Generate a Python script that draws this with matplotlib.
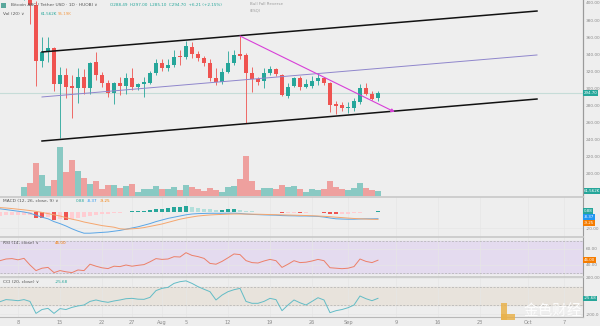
import numpy as np
import matplotlib
matplotlib.use('Agg')
import matplotlib.pyplot as plt
import matplotlib.transforms as mtransforms
from matplotlib.patches import Rectangle

# ---- data (day 0 = 2019-07-08) ----
days = np.arange(1, 61)
opens = [408, 415, 398, 332, 343, 347, 305, 316, 303, 300,
         314, 300, 331, 316, 307, 295, 306, 303, 312, 302,
         305, 306, 318, 330, 324, 327, 338, 337, 348, 340,
         336, 330, 312, 308, 319, 330, 340, 339, 318, 311,
         309, 318, 323, 316, 291, 303, 312, 302, 303, 309,
         312, 306, 282, 281, 277, 277, 284, 301, 293, 288.49]
highs = [425, 420, 402, 360, 360, 348, 325, 324, 316, 324,
         323, 331, 343, 319, 310, 308, 313, 318, 324, 307,
         313, 320, 335, 334, 334, 345, 345, 356, 354, 344,
         338, 335, 324, 324, 344, 345, 361, 341, 325, 314,
         324, 326, 324, 317, 306, 314, 315, 311, 315, 318,
         313, 308, 285, 284, 284, 289, 305, 306, 297, 297.0]
lows = [404, 375, 303, 325, 331, 297, 242, 289, 266, 283,
        294, 294, 310, 302, 290, 282, 292, 293, 298, 298,
        290, 305, 316, 320, 321, 325, 327, 334, 336, 332,
        326, 309, 304, 305, 318, 328, 335, 260, 296, 304,
        300, 316, 315, 291, 289, 302, 298, 300, 301, 304,
        304, 272, 270, 274, 271, 274, 282, 292, 286, 285.1]
closes = [416, 398, 332, 343, 347, 305, 316, 302, 300, 314,
          301, 330, 316, 307, 295, 306, 303, 312, 302, 305,
          308, 318, 330, 324, 328, 337, 337, 350, 340, 336,
          330, 312, 308, 319, 330, 339, 338, 318, 311, 308,
          318, 323, 317, 292, 302, 312, 302, 305, 309, 312,
          306, 281, 280, 277, 278, 285, 301, 293, 288, 294.7]
volume_k = [114, 164, 402, 258, 123, 197, 599, 299, 443, 311,
            218, 148, 188, 90, 132, 139, 102, 127, 148, 53,
            90, 90, 123, 86, 86, 107, 77, 135, 111, 86,
            62, 95, 74, 49, 107, 123, 205, 492, 188, 74,
            95, 95, 82, 132, 107, 123, 90, 49, 90, 74,
            82, 188, 114, 82, 74, 98, 164, 102, 74, 61.562]

ind_days = np.arange(-3, 61)
macd = [4, 3, 2, 1,
        0, -1.5, -4, -6.5, -8.5, -12, -14.5, -17.5, -21, -24,
        -26.5, -26.5, -26, -25.5, -25, -24, -23, -21.5, -20, -18.5,
        -16.5, -14.5, -12, -10, -8, -6.5, -5, -3.5, -2.5, -2,
        -1.8, -1.6, -1.6, -1.6, -1.5, -1.5, -1.8, -2.5, -3, -3.3,
        -3.6, -3.8, -4, -4.5, -4.7, -4.8, -5, -5, -5.2, -5.5,
        -6.3, -7.5, -8.5, -8.8, -9, -9, -8.7, -8.5, -8.5, -8.37]
signal = [5.5, 5, 4.3, 3.5,
          2.7, 1.8, 0.8, -0.5, -2, -3.5, -5, -7, -9, -10.5,
          -12.5, -14, -15.5, -17, -18, -19, -21, -21.5, -21, -20.5,
          -19.5, -18, -16.5, -15, -13, -11, -9, -7.5, -6.2, -5,
          -4.3, -3.7, -3.3, -3, -2.7, -2.5, -2.5, -2.6, -2.7, -2.8,
          -3, -3.2, -3.4, -3.6, -3.8, -4, -4.2, -4.4, -4.7, -5,
          -5.4, -5.9, -6.5, -7, -7.6, -8.1, -8.5, -8.8, -9.1, -9.25]
hist = [-5.5, -4, -3.8, -3.6,
        -3.4, -3.2, -7.5, -8, -6.5, -10, -9, -10.5, -8.5, -7.2,
        -6, -4.8, -3.5, -2.5, -2, -1.5, -0.8, 0.3, 0.8, 1.2,
        1.8, 2.5, 3.5, 4.2, 5, 5.8, 6.5, 7, 6.2, 5.2,
        4.2, 3.2, 2, 2.5, 3.2, 3.6, 2.8, 1.5, 0.9, 0.6,
        0.4, 0.3, -0.3, -1.6, -1.2, -0.8, -1.3, -0.9, -0.6, -0.4,
        -1.2, -2.2, -2.4, -2.3, -2, -1.5, -0.8, -0.2, 0.3, 0.88]
rsi = [45.4, 47.5, 48.0, 46.5,
       48.3, 40, 33, 36, 37, 30.5, 33, 31.5, 30.5, 33.8,
       33, 41, 38.5, 36.5, 35.5, 38.5, 38, 40, 38.5, 39.6,
       40.5, 44, 48, 47, 47.5, 50.4, 50, 55.4, 52, 50.5,
       48.3, 42, 41, 44.5, 49, 53.8, 53, 45.5, 43, 42.5,
       45, 47, 45.4, 37, 41, 45.4, 43, 43.5, 45, 47,
       45.4, 36.6, 36, 35.4, 36, 38, 47.5, 44.5, 43, 46]
cci = [-63, -40, -45, -52,
       -40, -60, -193, -150, -137, -193, -140, -150, -126, -110,
       -100, -60, -44, -60, -70, -55, -44, -30, -26, -35,
       -37, -15, 60, 85, 96, 140, 159, 168, 140, 104,
       75, 48, -44, 10, 48, 70, 85, -60, -81, -81,
       -60, -26, -40, -163, -100, -44, -75, -100, -60, -19,
       -44, -185, -163, -150, -130, -100, 0, -30, -52, -25.68]

# drawings on the price pane (day, price)
upper_line = [(4, 342.7), (86.5, 390.6)]
median_line = [(4, 290.1), (86.5, 339.2)]
lower_line = [(4, 238.6), (86.5, 287.7)]
trend_arrow = [(37, 361.4), (62.8, 272.5)]

tick_days = [0, 7, 14, 19, 24, 28, 35, 42, 49, 55, 63, 70, 77, 85, 91]
tick_names = ['8', '15', '22', '27', 'Aug', '5', '12', '19', '26', 'Sep',
              '9', '16', '23', 'Oct', '7']

UP = '#26a69a'
DOWN = '#ef5350'
BG = '#eeeeee'
AXC = '#8a8a8a'

fig = plt.figure(figsize=(6.0, 3.26), dpi=100, facecolor=BG)
W, H = 600.0, 326.0


def pane(top, bottom):
    return fig.add_axes([0, 1 - bottom / H, 583 / W, (bottom - top) / H], facecolor=BG)


ax_vol = pane(0, 197)
ax = fig.add_axes(ax_vol.get_position(), facecolor='none')
ax_macd = pane(197, 237)
ax_rsi = pane(237, 277)
ax_cci = pane(277, 317)

xlim = (-3, 94.17)
for a in (ax_vol, ax, ax_macd, ax_rsi, ax_cci):
    a.set_xlim(*xlim)
    for s in ('left', 'top', 'bottom'):
        a.spines[s].set_visible(False)
    a.spines['right'].set_color('#9a9a9a')
    a.spines['right'].set_linewidth(0.8)
    a.yaxis.tick_right()
    a.tick_params(axis='y', length=0, pad=1.8, labelsize=3.1, colors=AXC)
    a.tick_params(axis='x', length=0, labelbottom=False)
    a.set_xticks(tick_days)
    a.grid(True, color='#e6e6e6', lw=0.5)
    a.set_axisbelow(True)
for a in (ax_macd, ax_rsi, ax_cci):
    a.spines['top'].set_visible(True)
    a.spines['top'].set_color('#c8c8c8')
    a.spines['top'].set_linewidth(1.2)
ax_cci.spines['bottom'].set_visible(True)
ax_cci.spines['bottom'].set_color('#b8b8b8')

# ---- volume (behind candles) ----
colors = [UP if c >= o else DOWN for o, c in zip(opens, closes)]
ax_vol.bar(days, volume_k, width=0.86, color=colors, alpha=0.5, linewidth=0)
ax_vol.set_ylim(-12, 2411)
ax_vol.set_yticks([])
ax_vol.grid(False)

# ---- candles ----
ax.set_ylim(173.1, 403.5)
ax.set_yticks(np.arange(200, 401, 20))
ax.set_yticklabels(['%.2f' % v for v in np.arange(200, 401, 20)])
ax.grid(False)
ax.vlines(days, lows, highs, colors=colors, lw=0.6, zorder=3)
body_lo = np.minimum(opens, closes)
body_h = np.maximum(np.abs(np.array(closes) - np.array(opens)), 0.8)
ax.bar(days, body_h, bottom=body_lo, width=0.7, color=colors, linewidth=0, zorder=4)

ax.axhline(closes[-1], color='#c6dcd8', lw=0.8, zorder=1)
for line, col, lw in ((upper_line, '#111111', 1.1), (lower_line, '#111111', 1.1),
                      (median_line, '#8f86cc', 0.7)):
    ax.plot([p[0] for p in line], [p[1] for p in line], color=col, lw=lw, zorder=5)
ax.annotate('', xy=trend_arrow[1], xytext=trend_arrow[0],
            arrowprops=dict(arrowstyle='-|>', color='#d83fd8', lw=0.8,
                            mutation_scale=5, shrinkA=0, shrinkB=0), zorder=6)

# ---- MACD ----
ax_macd.set_ylim(-31.25, 18.75)
hcols = []
for i, h in enumerate(hist):
    prev = hist[i - 1] if i else h
    if h >= 0:
        hcols.append('#26a69a' if h >= prev else '#b2dfdb')
    else:
        hcols.append('#ef5350' if h < prev else '#ffcdd2')
ax_macd.bar(ind_days, hist, width=0.75, color=hcols, linewidth=0, zorder=2)
ax_macd.plot(ind_days, macd, color='#5aa6e6', lw=0.7, zorder=3)
ax_macd.plot(ind_days, signal, color='#f5a66e', lw=0.7, zorder=3)
ax_macd.set_yticks([-20])
ax_macd.set_yticklabels(['-20.00'])

# ---- RSI ----
ax_rsi.set_ylim(25, 75)
ax_rsi.axhspan(30, 70, color='#e4dbef', zorder=0)
for v in (30, 70):
    ax_rsi.axhline(v, color='#b0b0b0', lw=0.5, ls=(0, (3, 2)))
ax_rsi.plot(ind_days, rsi, color='#ec7f68', lw=0.7, zorder=3)
ax_rsi.set_yticks([40, 60])
ax_rsi.set_yticklabels(['40.00', '60.00'])

# ---- CCI ----
ax_cci.set_ylim(-233, 211)
ax_cci.axhspan(-100, 100, color='#e8e3dc', zorder=0)
for v in (-100, 100):
    ax_cci.axhline(v, color='#b0b0b0', lw=0.5, ls=(0, (3, 2)))
ax_cci.plot(ind_days, cci, color='#62bcc6', lw=0.7, zorder=3)
ax_cci.set_yticks([-200, 200])
ax_cci.set_yticklabels(['-200.0', '200.00'])
ax_cci.tick_params(axis='x', labelbottom=True, labelsize=3.6, colors=AXC, pad=2.5)
ax_cci.set_xticklabels(tick_names)


# ---- value tags on the right scale ----
def tag(a, y, text, color):
    tr = mtransforms.blended_transform_factory(a.transAxes, a.transData)
    a.text(1.0015, y, text, transform=tr, ha='left', va='center', fontsize=2.9,
           color='white', clip_on=False, zorder=10,
           bbox=dict(boxstyle='square,pad=0.2', fc=color, ec='none'))


tag(ax, closes[-1], '%.2f' % closes[-1], UP)
tag(ax_vol, volume_k[-1], '61.562K', UP)
tag(ax_macd, 1.6, '0.88', UP)
tag(ax_macd, -5.9, '%.2f' % macd[-1], '#2196f3')
tag(ax_macd, -13.4, '%.2f' % signal[-1], '#f57c00')
tag(ax_rsi, rsi[-1], '%.2f' % rsi[-1], '#f57c00')
tag(ax_cci, cci[-1], '%.2f' % cci[-1], UP)


# ---- legends / headers ----
def ftext(px, py, s, color='#555555', size=3.3, **kw):
    fig.text(px / W, 1 - py / H, s, color=color, fontsize=size, va='center', ha='left', **kw)


fig.add_artist(Rectangle((1 / W, 1 - 8 / H), 5 / W, 5 / H, transform=fig.transFigure,
                         fc='#5aa79c', ec='none'))
ftext(11, 5, 'Bitcoin ABC / Tether USD · 1D · HUOBI \u2228', size=3.2)
ftext(110, 5, 'O288.49  H297.00  L285.10  C294.70  +6.21 (+2.15%)', color=UP, size=3.0)
ftext(3, 14, 'Vol (20) \u2228', size=3.2)
ftext(41, 14, '61.562K', color=UP, size=2.9)
ftext(58, 14, '95.19K', color='#f39c4a', size=2.9)
ftext(250, 4, 'Bull Fall Reverse', color='#9a9a9a', size=2.9)
ftext(250, 10, '(ESQ)', color='#9a9a9a', size=2.9)

ftext(3, 201.5, 'MACD (12, 26, close, 9) \u2228', size=3.2)
ftext(76, 201.5, '0.88', color=UP, size=3.0)
ftext(87, 201.5, '-8.37', color='#2196f3', size=3.0)
ftext(100, 201.5, '-9.25', color='#f57c00', size=3.0)
ftext(3, 242.5, 'RSI (14, close) \u2228', size=3.2)
ftext(55, 242.5, '46.00', color='#f57c00', size=3.0)
ftext(3, 282, 'CCI (20, close) \u2228', size=3.2)
ftext(55, 282, '-25.68', color=UP, size=3.0)

# watermark
fig.add_artist(Rectangle((501 / W, 1 - 320 / H), 6 / W, 17 / H, transform=fig.transFigure,
                         fc='#e9b24c', ec='none', alpha=0.85))
fig.add_artist(Rectangle((501 / W, 1 - 320 / H), 14 / W, 6 / H, transform=fig.transFigure,
                         fc='#e9b24c', ec='none', alpha=0.85))
fig.text(524 / W, 1 - 311 / H, '金色财经', color='white', alpha=0.9, fontsize=10.5,
         family=['Noto Sans CJK SC', 'DejaVu Sans'], va='center', ha='left')

fig.savefig('out.png', dpi=100, facecolor=BG)
